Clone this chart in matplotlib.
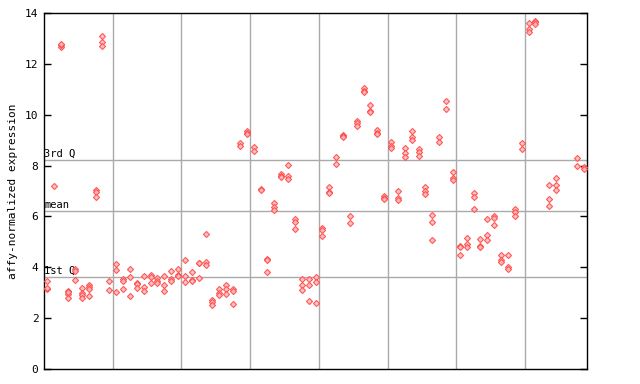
import matplotlib
matplotlib.use("Agg")
import matplotlib.pyplot as plt

# column index along the x axis (samples), and the expression values found in each
columns = [0, 1, 2, 3, 4, 5, 6, 7, 8, 9,
           10, 11, 12, 13, 14, 15, 16, 17, 18, 19,
           20, 21, 22, 23, 24, 25, 26, 27, 28, 29,
           30, 31, 32, 33, 34, 35, 36, 37, 38, 39,
           40, 41, 42, 43, 44, 45, 46, 47, 48, 49,
           50, 51, 52, 53, 54, 55, 56, 57, 58, 59,
           60, 61, 62, 63, 64, 65, 66, 67, 68, 69,
           70, 71, 73, 74, 77, 78]
expression = [
    [3.15, 3.2, 3.46], [7.2], [12.65, 12.75, 12.8], [3.07, 2.95, 2.8, 3.02],
    [3.93, 3.85, 3.5], [3.2, 3.0, 2.92, 2.8], [3.3, 3.22, 3.15, 2.87],
    [7.05, 6.95, 6.78], [13.1, 12.85, 12.7], [3.46, 3.1],
    [4.13, 3.9, 3.02], [3.53, 3.45, 3.15], [3.93, 3.6, 2.87], [3.37, 3.33, 3.2],
    [3.66, 3.24, 3.07], [3.68, 3.6, 3.37], [3.56, 3.47, 3.37], [3.66, 3.3, 3.07],
    [3.85, 3.53, 3.47], [3.93, 3.7, 3.67],
    [4.27, 3.64, 3.41], [3.8, 3.5, 3.47], [4.17, 4.15, 3.58], [5.3, 4.2, 4.09],
    [2.71, 2.62, 2.52], [3.16, 3.0, 2.92], [3.29, 3.13, 2.95], [3.16, 3.07, 2.54],
    [8.9, 8.77], [9.36, 9.28, 9.24],
    [8.73, 8.58], [7.06, 7.03], [4.32, 4.28, 3.8], [6.53, 6.36, 6.25],
    [7.67, 7.6, 7.56], [8.02, 7.59, 7.48], [5.9, 5.78, 5.49], [3.53, 3.29, 3.09],
    [3.53, 3.29, 2.66], [3.62, 3.41, 2.58],
    [5.56, 5.48, 5.22], [7.14, 6.98, 6.94], [8.32, 8.05], [9.2, 9.17, 9.13],
    [6.0, 5.73], [9.76, 9.66, 9.56], [11.05, 10.92, 10.88], [10.37, 10.14, 10.1],
    [9.4, 9.27, 9.23], [6.8, 6.72, 6.68],
    [8.93, 8.78, 8.68], [6.99, 6.72, 6.64], [8.71, 8.5, 8.32], [9.36, 9.12, 9.02],
    [8.65, 8.52, 8.39], [7.14, 7.01, 6.88], [6.04, 5.77, 5.07], [9.13, 8.94],
    [10.54, 10.22], [7.75, 7.5, 7.45],
    [4.83, 4.79, 4.47], [5.14, 4.9, 4.81], [6.94, 6.76, 6.28], [5.1, 4.82, 4.78],
    [5.88, 5.27, 5.06], [6.0, 5.92, 5.65], [4.47, 4.29, 4.2], [4.47, 4.02, 3.92],
    [6.28, 6.18, 6.0], [8.87, 8.64],
    [13.59, 13.36, 13.24], [13.7, 13.66, 13.57], [7.22, 6.67, 6.4],
    [7.5, 7.22, 7.02], [8.28, 8.0], [7.93, 7.87],
]

# reference lines
ref_labels = ["1st Q", "mean", "3rd Q"]
ref_values = [3.61, 6.21, 8.22]
group_edges = [9.5, 19.5, 29.5, 39.5, 49.5, 59.5, 69.5]
n_columns = 79

mono = "DejaVu Sans Mono"

fig = plt.figure(figsize=(6.4, 3.84), dpi=100)
ax = fig.add_axes([44 / 640, 15 / 384, 543 / 640, 356 / 384])

for xv in group_edges:
    ax.axvline(xv, color="#aaaaaa", lw=1, zorder=1)
for lab, val in zip(ref_labels, ref_values):
    ax.axhline(val, color="#aaaaaa", lw=1, zorder=1)
    ax.text(-0.45, val + 0.06, lab, fontsize=7.5, family=mono,
            ha="left", va="bottom", zorder=2)

xs, ys = [], []
for c, vals in zip(columns, expression):
    for v in vals:
        xs.append(c)
        ys.append(v)
ax.plot(xs, ys, linestyle="none", marker="D", markersize=3.1,
        markerfacecolor="#ffbcbc", markeredgecolor="#ff4a4a",
        markeredgewidth=0.8, alpha=0.9, zorder=3)

ax.set_xlim(-0.5, n_columns - 0.5)
ax.set_ylim(0, 14)
ax.set_yticks([0, 2, 4, 6, 8, 10, 12, 14])
ax.set_xticks([])
ax.tick_params(axis="y", direction="in", length=5, width=1,
               right=True, labelsize=8, pad=4)
for lbl in ax.get_yticklabels():
    lbl.set_family(mono)
for sp in ax.spines.values():
    sp.set_linewidth(1)
    sp.set_color("black")

ax.set_ylabel("affy-normalized expression", family=mono, fontsize=8, labelpad=5)

fig.savefig("out.png", dpi=100)
plt.close(fig)
